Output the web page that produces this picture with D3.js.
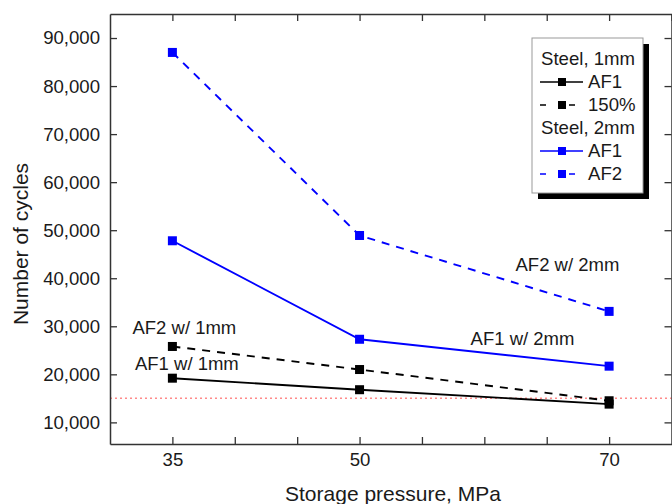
<!DOCTYPE html>
<html>
<head>
<meta charset="utf-8">
<script src="https://cdn.jsdelivr.net/npm/d3@7"></script>
<style>
  body { margin: 0; background: #fff; }
  svg text { font-family: "Liberation Sans", Arial, sans-serif; fill: #1a1a1a; }
</style>
</head>
<body>
<div id="chart"></div>
<script>
// data
var pressures = [35, 50, 70];
var steel1AF1 = [19200, 16800, 13800];
var steel1AF2 = [25800, 21000, 14500];
var steel2AF1 = [47800, 27300, 21700];
var steel2AF2 = [87000, 48900, 33100];
var limitLine = 15000;

var xTickLabels = [35, 50, 70];
var xMinorTicks = [35, 40, 45, 50, 55, 60, 65, 70];
var yTicks = [10000, 20000, 30000, 40000, 50000, 60000, 70000, 80000, 90000];

var series = [
  { name: "AF1", group: "Steel, 1mm", values: steel1AF1, color: "#000", dash: null },
  { name: "150%", group: "Steel, 1mm", values: steel1AF2, color: "#000", dash: "8,7" },
  { name: "AF1", group: "Steel, 2mm", values: steel2AF1, color: "#0000ff", dash: null },
  { name: "AF2", group: "Steel, 2mm", values: steel2AF2, color: "#0000ff", dash: "8,7" }
];

var annotations = [
  { text: "AF2 w/ 1mm", x: 31.8, y: 28300 },
  { text: "AF1 w/ 1mm", x: 32.0, y: 20800 },
  { text: "AF2 w/ 2mm", x: 62.5, y: 41600 },
  { text: "AF1 w/ 2mm", x: 58.9, y: 26200 }
];

var svgWidth = 672;
var svgHeight = 504;
var margin = { top: 14, right: 0, bottom: 60, left: 110 };

var svg = d3.select("#chart")
  .append("svg")
  .attr("width", svgWidth)
  .attr("height", svgHeight);

var x = d3.scaleLinear().domain([30, 75]).range([margin.left, 671.5]);
var y = d3.scaleLinear().domain([5500, 95000]).range([svgHeight - margin.bottom, margin.top]);

var x0 = x.range()[0], x1 = x.range()[1];
var y0 = y.range()[0], y1 = y.range()[1];

// reference line
svg.append("line")
  .attr("x1", x0).attr("x2", x1)
  .attr("y1", y(limitLine)).attr("y2", y(limitLine))
  .attr("stroke", "#ff8a8a")
  .attr("stroke-width", 1.5)
  .attr("stroke-dasharray", "2,3");

// axes, ticks point inward
var bottomAxis = d3.axisBottom(x)
  .tickValues(xMinorTicks)
  .tickSizeInner(-7).tickSizeOuter(0)
  .tickPadding(9)
  .tickFormat(function (d) { return xTickLabels.indexOf(d) >= 0 ? d : ""; });

var topAxis = d3.axisTop(x).tickValues(xMinorTicks.concat([75])).tickSizeInner(-7).tickSizeOuter(0).tickFormat("");
var leftAxis = d3.axisLeft(y).tickValues(yTicks).tickSizeInner(-7).tickSizeOuter(0).tickPadding(10).tickFormat(d3.format(","));
var rightAxis = d3.axisRight(y).tickValues(yTicks).tickSizeInner(-7).tickSizeOuter(0).tickFormat("");

function styleAxis(g) {
  g.select(".domain").attr("stroke", "#333").attr("stroke-width", 1.5);
  g.selectAll(".tick line").attr("stroke", "#333").attr("stroke-width", 1.3);
  g.selectAll(".tick text").style("font-size", "18.6px").attr("fill", "#1a1a1a");
}

svg.append("g").attr("transform", `translate(0, ${y0})`).call(bottomAxis).call(styleAxis);
svg.append("g").attr("transform", `translate(0, ${y1})`).call(topAxis).call(styleAxis);
svg.append("g").attr("transform", `translate(${x0}, 0)`).call(leftAxis).call(styleAxis);
svg.append("g").attr("transform", `translate(${x1}, 0)`).call(rightAxis).call(styleAxis);

// series lines and square markers
var line = d3.line()
  .x(function (d, i) { return x(pressures[i]); })
  .y(function (d) { return y(d); });

series.forEach(function (s) {
  svg.append("path")
    .attr("d", line(s.values))
    .attr("fill", "none")
    .attr("stroke", s.color)
    .attr("stroke-width", 1.9)
    .attr("stroke-dasharray", s.dash);

  svg.selectAll(null)
    .data(s.values)
    .enter()
    .append("rect")
    .attr("x", function (d, i) { return x(pressures[i]) - 4.5; })
    .attr("y", function (d) { return y(d) - 4.5; })
    .attr("width", 9)
    .attr("height", 9)
    .attr("fill", s.color);
});

// annotations
svg.selectAll(null)
  .data(annotations)
  .enter()
  .append("text")
  .attr("x", function (d) { return x(d.x); })
  .attr("y", function (d) { return y(d.y); })
  .style("font-size", "18.5px")
  .text(function (d) { return d.text; });

// axis titles
svg.append("text")
  .attr("transform", `translate(28, ${(y0 + y1) / 2 + 15}) rotate(-90)`)
  .attr("text-anchor", "middle")
  .style("font-size", "21px")
  .text("Number of cycles");

svg.append("text")
  .attr("x", 393)
  .attr("y", 501)
  .attr("text-anchor", "middle")
  .style("font-size", "21px")
  .text("Storage pressure, MPa");

// legend with drop shadow
var legend = svg.append("g").attr("transform", "translate(532, 38)");
var legW = 111, legH = 155;

legend.append("rect")
  .attr("x", 6).attr("y", 6)
  .attr("width", legW).attr("height", legH)
  .attr("fill", "#000");

legend.append("rect")
  .attr("width", legW).attr("height", legH)
  .attr("fill", "#fff")
  .attr("stroke", "#999");

var rowH = 23;
var rows = [];
var lastGroup = null;
series.forEach(function (s) {
  if (s.group !== lastGroup) {
    rows.push({ header: s.group });
    lastGroup = s.group;
  }
  rows.push({ series: s });
});

rows.forEach(function (r, i) {
  var base = 27 + i * rowH;
  if (r.header) {
    legend.append("text")
      .attr("x", 9).attr("y", base)
      .style("font-size", "18.6px")
      .text(r.header);
    return;
  }
  var s = r.series;
  legend.append("line")
    .attr("x1", 8).attr("x2", 51)
    .attr("y1", base - 6).attr("y2", base - 6)
    .attr("stroke", s.color)
    .attr("stroke-width", 1.6)
    .attr("stroke-dasharray", s.dash ? "6,23" : null);
  legend.append("rect")
    .attr("x", 26).attr("y", base - 10)
    .attr("width", 8).attr("height", 8)
    .attr("fill", s.color);
  legend.append("text")
    .attr("x", 56).attr("y", base)
    .style("font-size", "18.6px")
    .text(s.name);
});
</script>
</body>
</html>
